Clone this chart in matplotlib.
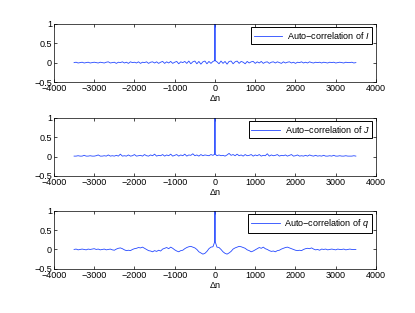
import numpy as np
import matplotlib
matplotlib.use('Agg')
import matplotlib.pyplot as plt

plt.rcParams['font.family'] = ['Liberation Sans', 'DejaVu Sans']
plt.rcParams['mathtext.fontset'] = 'custom'
plt.rcParams['mathtext.it'] = 'Liberation Sans:italic'

# lags: -3500..-50 step 50, three points around zero, 50..3500 step 50
lags = np.concatenate([np.arange(-3500, 0, 50), [-5, 0, 5], np.arange(50, 3501, 50)])

# auto-correlation of I
acf_I = [
    0.00, 0.01, -0.01, 0.00, 0.01, -0.01, 0.00, 0.01, -0.01, 0.00,
    0.01, 0.00, -0.01, 0.01, 0.00, -0.01, 0.01, 0.02, -0.01, 0.00,
    0.01, -0.02, 0.01, 0.00, 0.02, -0.01, 0.01, -0.02, 0.02, 0.00,
    0.01, -0.01, 0.02, -0.02, 0.01, 0.00, 0.02, -0.02, 0.01, 0.02,
    -0.01, 0.02, -0.02, 0.01, 0.03, -0.02, 0.02, -0.01, 0.03, -0.02,
    0.01, 0.03, -0.03, 0.02, 0.00, 0.03, -0.02, 0.04, -0.03, 0.02,
    0.04, -0.03, 0.03, -0.04, 0.02, 0.04, -0.03, 0.03, -0.02, 0.03,
    0.05, 1.00, 0.05,
    0.02, -0.03, 0.04, -0.02, 0.03, -0.04, 0.03, 0.04, -0.03, 0.02,
    0.04, -0.02, 0.03, 0.01, -0.03, 0.03, -0.01, 0.02, 0.03, -0.02,
    0.02, -0.01, 0.03, -0.02, 0.01, 0.02, -0.02, 0.01, 0.02, -0.01,
    0.02, 0.00, -0.02, 0.02, -0.01, 0.01, 0.02, -0.01, 0.01, -0.02,
    0.01, 0.00, 0.02, -0.01, 0.01, -0.01, 0.02, 0.00, -0.01, 0.01,
    0.00, 0.01, -0.01, 0.01, 0.00, -0.01, 0.01, 0.00, 0.01, -0.01,
    0.00, 0.01, 0.00, -0.01, 0.01, 0.00, 0.00, 0.01, -0.01, 0.00,
]

# auto-correlation of J
acf_J = [
    0.01, 0.01, 0.02, 0.01, 0.01, 0.03, 0.01, 0.01, 0.02, 0.01,
    0.01, 0.02, 0.04, 0.01, 0.01, 0.02, 0.01, 0.04, 0.01, 0.02,
    0.01, 0.03, 0.01, 0.06, 0.01, 0.02, 0.01, 0.04, 0.01, 0.02,
    0.05, 0.01, 0.02, 0.03, 0.01, 0.05, 0.02, 0.01, 0.04, 0.02,
    0.06, 0.01, 0.03, 0.02, 0.05, 0.01, 0.04, 0.02, 0.06, 0.01,
    0.03, 0.05, 0.01, 0.04, 0.02, 0.06, 0.01, 0.04, 0.03, 0.07,
    0.02, 0.04, 0.01, 0.05, 0.02, 0.04, 0.03, 0.02, 0.05, 0.03,
    0.06, 1.00, 0.06,
    0.02, 0.04, 0.02, 0.03, 0.01, 0.04, 0.08, 0.03, 0.05, 0.02,
    0.06, 0.02, 0.04, 0.01, 0.05, 0.02, 0.03, 0.05, 0.01, 0.04,
    0.02, 0.05, 0.01, 0.03, 0.02, 0.07, 0.01, 0.04, 0.02, 0.03,
    0.05, 0.01, 0.03, 0.02, 0.04, 0.01, 0.03, 0.05, 0.01, 0.02,
    0.04, 0.01, 0.02, 0.01, 0.03, 0.01, 0.04, 0.02, 0.01, 0.03,
    0.01, 0.02, 0.01, 0.03, 0.01, 0.01, 0.02, 0.01, 0.03, 0.01,
    0.01, 0.02, 0.01, 0.01, 0.02, 0.01, 0.01, 0.01, 0.02, 0.01,
]

# auto-correlation of q
acf_q = [
    0.00, 0.01, -0.01, 0.00, 0.01, 0.00, -0.01, 0.01, 0.00, 0.01,
    0.02, 0.00, 0.01, -0.01, 0.00, 0.01, -0.01, 0.00, 0.01, -0.01,
    -0.02, 0.01, 0.03, 0.04, 0.02, -0.01, -0.03, -0.02, -0.03, 0.00,
    0.02, 0.03, 0.05, 0.04, 0.06, 0.03, 0.00, -0.03, -0.04, -0.06,
    -0.03, -0.05, -0.02, -0.04, 0.01, 0.03, 0.05, 0.02, 0.06, 0.03,
    -0.01, -0.04, -0.06, -0.03, -0.02, 0.02, 0.05, 0.07, 0.08, 0.06,
    0.04, 0.00, -0.06, -0.09, -0.12, -0.10, -0.05, 0.02, 0.06, 0.07,
    0.20, 1.00, 0.20,
    0.06, 0.05, 0.00, -0.06, -0.10, -0.12, -0.09, -0.05, 0.01, 0.04,
    0.06, 0.08, 0.07, 0.05, 0.03, -0.01, -0.03, -0.06, -0.04, -0.01,
    0.02, 0.05, 0.03, 0.06, 0.02, 0.00, -0.03, -0.05, -0.04, -0.06,
    -0.03, -0.02, 0.01, 0.03, 0.05, 0.06, 0.04, 0.02, 0.00, -0.02,
    -0.03, -0.02, -0.03, 0.00, 0.02, 0.03, 0.02, 0.04, 0.01, -0.01,
    0.00, -0.02, 0.01, 0.00, 0.01, -0.01, 0.00, 0.01, 0.00, -0.01,
    0.01, 0.00, 0.00, 0.01, -0.01, 0.00, 0.01, 0.00, 0.00, 0.00,
]

labels = ['Auto\u2212correlation of $I$',
          'Auto\u2212correlation of $J$',
          'Auto\u2212correlation of $q$']

fig = plt.figure(figsize=(4.15, 3.13), dpi=100)
bottoms = [0.738, 0.438, 0.141]
fs = 6.5

for b, y, lab in zip(bottoms, [acf_I, acf_J, acf_q], labels):
    ax = fig.add_axes([0.130, b, 0.776, 0.186])
    ax.plot(lags, y, color='#2448ff', linewidth=0.6, label=lab)
    ax.set_xlim(-4000, 4000)
    ax.set_ylim(-0.5, 1)
    ax.set_xticks(np.arange(-4000, 4001, 1000))
    ax.set_xticklabels([str(v).replace('-', '\u2212') for v in range(-4000, 4001, 1000)])
    ax.set_yticks([-0.5, 0, 0.5, 1])
    ax.set_yticklabels(['\u22120.5', '0', '0.5', '1'])
    ax.tick_params(direction='in', top=True, right=True, length=2.5, width=0.5,
                   labelsize=fs, pad=1.5)
    for s in ax.spines.values():
        s.set_linewidth(0.5)
    ax.set_xlabel('\u0394n', fontsize=fs, labelpad=0.5)
    leg = ax.legend(loc='upper right', fontsize=fs, fancybox=False, framealpha=1,
                    edgecolor='black', handlelength=3.2, borderpad=0.3,
                    handletextpad=0.5, borderaxespad=0.4)
    leg.get_frame().set_linewidth(0.7)

fig.savefig('out.png', dpi=100)
